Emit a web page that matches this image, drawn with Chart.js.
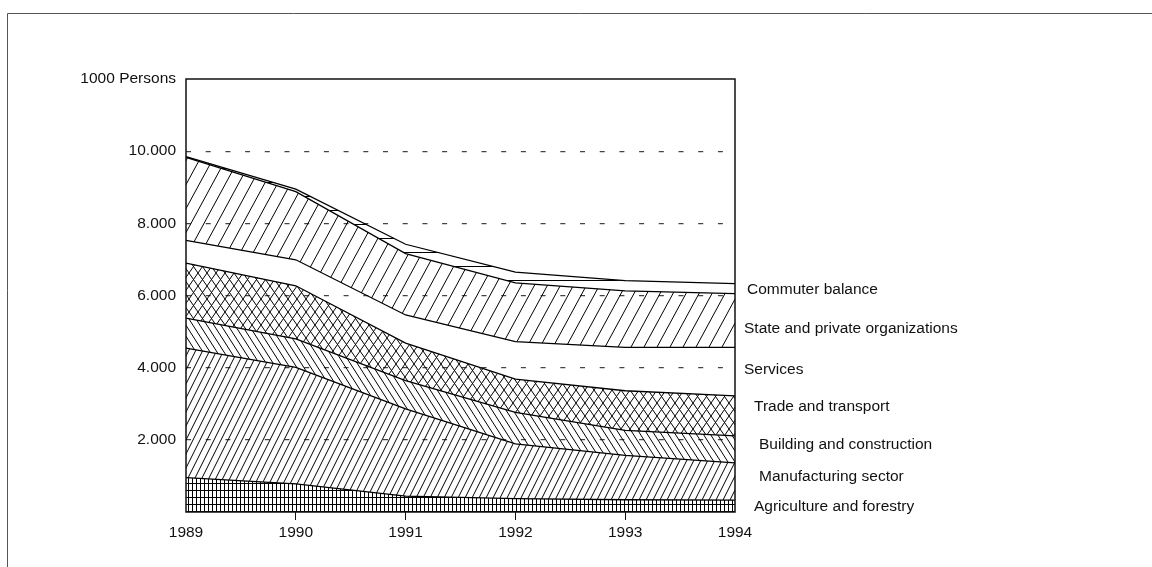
<!DOCTYPE html>
<html>
<head>
<meta charset="utf-8">
<script src="https://cdn.jsdelivr.net/npm/chart.js@4"></script>
<style>
  html, body { margin: 0; padding: 0; background: #fff; }
  #wrap { position: relative; width: 1152px; height: 567px; }
</style>
</head>
<body>
<div id="wrap"><canvas id="chart" width="1152" height="567"></canvas></div>
<script>
// employment by sector, 1000 persons (stacked)
var years = ['1989', '1990', '1991', '1992', '1993', '1994'];

var agriculture   = [950, 780, 440, 370, 340, 330];
var manufacturing = [3590, 3230, 2420, 1520, 1230, 1030];
var building      = [830, 790, 780, 870, 690, 750];
var trade         = [1530, 1470, 1040, 920, 1100, 1110];
var services      = [630, 720, 780, 1040, 1200, 1340];
var statePrivate  = [2300, 1890, 1700, 1630, 1570, 1490];
var commuter      = [20, 70, 260, 300, 280, 280];

var seriesNames = ['Agriculture and forestry', 'Manufacturing sector', 'Building and construction',
  'Trade and transport', 'Services', 'State and private organizations', 'Commuter balance'];

var yTicks = [0, 2000, 4000, 6000, 8000, 10000, 12000];

// hatch patterns
function makePattern(w, h, draw) {
  var c = document.createElement('canvas');
  c.width = w; c.height = h;
  var g = c.getContext('2d');
  g.strokeStyle = '#000';
  g.lineWidth = 1;
  g.beginPath();
  draw(g, w, h);
  g.stroke();
  return g.createPattern(c, 'repeat');
}
function slash(w, h) {
  return makePattern(w, h, function(g, w, h) {
    for (var k = -1; k <= 1; k++) { g.moveTo(k * w, h); g.lineTo(k * w + w, 0); }
  });
}
function backslash(w, h) {
  return makePattern(w, h, function(g, w, h) {
    for (var k = -1; k <= 1; k++) { g.moveTo(k * w, 0); g.lineTo(k * w + w, h); }
  });
}
function cross(w, h) {
  return makePattern(w, h, function(g, w, h) {
    for (var k = -1; k <= 1; k++) {
      g.moveTo(k * w, h); g.lineTo(k * w + w, 0);
      g.moveTo(k * w, 0); g.lineTo(k * w + w, h);
    }
  });
}
function grid(w, h) {
  return makePattern(w, h, function(g, w, h) {
    g.moveTo(0.5, 0); g.lineTo(0.5, h);
    g.moveTo(0, 0.5); g.lineTo(w, 0.5);
  });
}
function horiz(w, h) {
  return makePattern(w, h, function(g, w, h) {
    g.moveTo(0, 0.5); g.lineTo(w, 0.5);
  });
}

var fills = [grid(4, 7), slash(7, 14), backslash(7, 11), cross(9, 13), 'rgba(0,0,0,0)', slash(13, 24), horiz(8, 14)];
var seriesData = [agriculture, manufacturing, building, trade, services, statePrivate, commuter];

var datasets = seriesData.map(function(d, i) {
  return {
    label: seriesNames[i],
    data: d,
    fill: i === 0 ? 'origin' : '-1',
    backgroundColor: fills[i],
    borderColor: '#000',
    borderWidth: 1.3,
    pointRadius: 0,
    tension: 0
  };
});

// side labels, y in pixels
var labelPos = [[754, 507], [759, 477], [759, 445], [754, 407], [744, 370], [744, 329], [747, 290]];

var framePlugin = {
  id: 'frame',
  beforeDraw: function(chart) {
    var ctx = chart.ctx;
    ctx.save();
    ctx.fillStyle = '#fff';
    ctx.fillRect(0, 0, chart.width, chart.height);
    ctx.strokeStyle = '#555';
    ctx.lineWidth = 1;
    ctx.beginPath();
    ctx.moveTo(7.5, 567); ctx.lineTo(7.5, 13.5); ctx.lineTo(1152, 13.5);
    ctx.stroke();
    ctx.restore();
  },
  afterDraw: function(chart) {
    var ctx = chart.ctx, a = chart.chartArea;
    ctx.save();
    ctx.strokeStyle = '#111';
    ctx.lineWidth = 1.5;
    ctx.strokeRect(a.left, a.top, a.right - a.left, a.bottom - a.top);
    ctx.fillStyle = '#111';
    ctx.font = '15.5px "Liberation Sans", Arial, sans-serif';
    ctx.textBaseline = 'middle';
    ctx.textAlign = 'left';
    for (var i = 0; i < seriesNames.length; i++) {
      ctx.fillText(seriesNames[i], labelPos[i][0], labelPos[i][1]);
    }
    ctx.restore();
  }
};

var ctx = document.getElementById('chart').getContext('2d');
var myChart = new Chart(ctx, {
  type: 'line',
  data: { labels: years, datasets: datasets },
  options: {
    responsive: false,
    animation: false,
    layout: { padding: { left: 0, top: 79, right: 417, bottom: 0 } },
    plugins: { legend: { display: false }, tooltip: { enabled: false } },
    scales: {
      x: {
        type: 'category',
        offset: false,
        grid: {
          drawOnChartArea: false,
          drawTicks: true,
          tickLength: 8,
          tickColor: function(c) { return (c.index === 0 || c.index === years.length - 1) ? 'rgba(0,0,0,0)' : '#111'; }
        },
        border: { display: false },
        ticks: {
          color: '#111',
          padding: 3,
          maxRotation: 0,
          font: { family: '"Liberation Sans", Arial, sans-serif', size: 15.5 }
        },
        afterFit: function(scale) { scale.height = 55; }
      },
      y: {
        stacked: true,
        min: 0,
        max: 12000,
        afterBuildTicks: function(scale) { scale.ticks = yTicks.map(function(v) { return { value: v }; }); },
        grid: {
          drawTicks: false,
          lineWidth: 1.2,
          color: function(c) {
            var v = c.tick ? c.tick.value : 0;
            return (v === 0 || v === 12000) ? 'rgba(0,0,0,0)' : '#444';
          }
        },
        border: { display: false, dash: [5, 14.7] },
        ticks: {
          color: '#111',
          padding: 10,
          font: { family: '"Liberation Sans", Arial, sans-serif', size: 15.5 },
          callback: function(v) {
            if (v === 12000) return '1000 Persons';
            if (v === 0) return '';
            return (v / 1000) + '.000';
          }
        },
        afterFit: function(scale) { scale.width = 186; }
      }
    }
  },
  plugins: [framePlugin]
});
</script>
</body>
</html>
